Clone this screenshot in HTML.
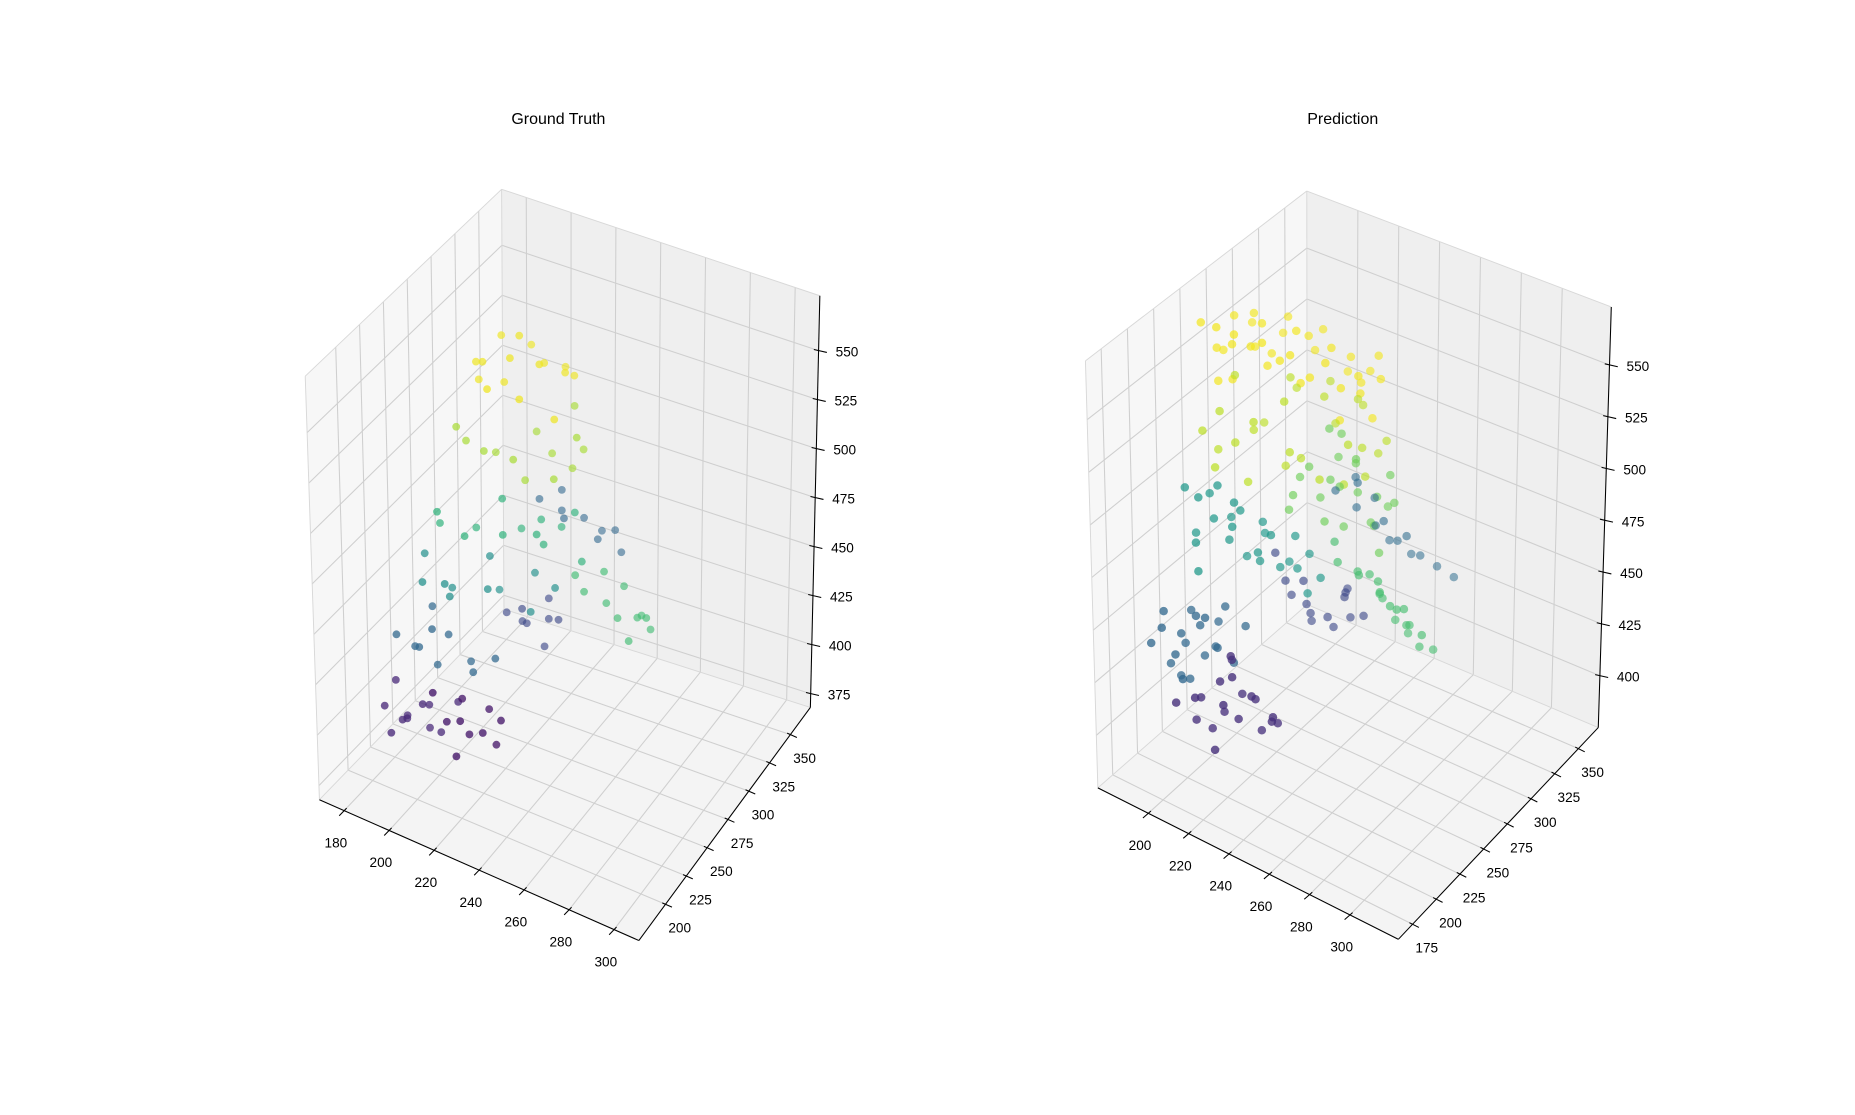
<!DOCTYPE html>
<html>
<head>
<meta charset="utf-8">
<style>
html,body{margin:0;padding:0;background:#fff;}
svg{display:block;font-family:"Liberation Sans","DejaVu Sans",sans-serif;}
</style>
</head>
<body>
<svg id="fig" width="1855" height="1115" viewBox="0 0 1568 942.5" preserveAspectRatio="none" xmlns="http://www.w3.org/2000/svg">
<rect x="0" y="0" width="1568" height="942.5" fill="#ffffff"/>
<g id="p0"></g>
<g id="p1"></g>
</svg>
<script>
// ---------- data ----------
const gtTicksX = [180,200,220,240,260,280,300];
const gtTicksY = [200,225,250,275,300,325,350];
const gtTicksZ = [375,400,425,450,475,500,525,550];
const prTicksX = [200,220,240,260,280,300];
const prTicksY = [175,200,225,250,275,300,325,350];
const prTicksZ = [400,425,450,475,500,525,550];

// Ground-truth clusters [x,y,z] and colour values
const gtHead = [[205,260,560],[212,250,568],[222,255,572],[232,262,570],[238,275,562],[236,290,552],[228,300,548],[215,295,556],[208,280,565],[220,270,575],[226,282,558],[214,268,550],[240,258,548],[230,245,560],[202,270,545],[218,240,562]];
const gtUpper = [[200,250,530],[210,255,520],[225,250,525],[238,262,515],[242,285,520],[232,300,530],[215,300,510],[205,280,505],[220,275,500],[235,290,505],[245,270,535],[198,265,515],[228,285,512]];
const gtMid = [[195,240,490],[205,245,480],[220,250,485],[232,265,478],[240,280,490],[228,295,470],[212,290,465],[200,270,470],[190,255,475],[215,262,495],[245,275,470],[235,250,492],[225,280,480]];
const gtLower = [[190,235,455],[200,240,450],[215,245,458],[228,260,445],[222,280,452],[208,275,440],[195,255,445],[185,250,460],[235,270,455],[210,260,465],[202,230,462]];
const gtLegUp = [[182,225,430],[190,230,425],[200,238,432],[212,235,420],[205,250,415],[192,245,410],[184,240,418],[220,240,428],[198,225,440],[188,250,435]];
const gtLegLow = [[178,220,395],[186,225,390],[194,230,398],[182,235,385],[190,240,380],[200,228,388],[205,235,402],[196,218,405],[188,215,395],[180,228,405],[184,212,388]];
const gtLeg2 = [[212,205,410],[220,210,405],[228,205,412],[222,195,420],[215,215,418],[230,215,402],[208,200,425],[225,220,415],[235,208,420],[218,200,398]];
const gtPurple = [[205,290,420],[212,295,415],[220,300,418],[214,285,428],[222,290,410],[208,300,412],[218,305,425],[226,296,422]];
const gtGreenArm = [[240,290,445],[248,295,440],[255,290,438],[260,300,435],[252,305,445],[262,285,432],[266,295,440],[245,300,452],[258,310,430],[238,285,455],[264,305,428]];
const gtBlueArm = [[212,310,470],[220,315,465],[228,320,462],[235,318,455],[225,305,468],[240,325,458],[218,320,472],[232,330,452],[244,322,450]];
const gtColors = [0.96,0.78,0.58,0.45,0.3,0.1,0.06,0.2,0.62,0.3];

// Prediction clusters
const prHead = [[195,245,560],[205,240,568],[215,238,572],[228,240,570],[240,245,565],[250,255,560],[252,270,552],[245,285,548],[235,295,552],[220,298,558],[207,290,562],[198,275,566],[196,260,570],[212,255,575],[225,262,574],[238,270,568],[222,280,563],[208,272,552],[246,262,540],[200,250,545],
  [190,240,572],[200,235,576],[210,232,578],[222,235,578],[234,238,576],[245,250,572],[255,262,565],[258,278,558],[250,292,560],[242,300,546],[230,302,540],[215,300,545],[202,295,550],[192,285,555],[188,265,548],[192,252,540],[252,282,535],[218,248,560],[232,252,556],[205,262,558]];
const prUpper = [[196,245,530],[205,242,520],[215,240,535],[230,245,525],[242,250,515],[250,262,530],[248,280,520],[240,292,535],[226,298,515],[210,292,528],[200,280,512],[195,262,540],[218,265,505],[232,275,540],[206,258,520],[244,270,505],[225,250,545],[212,282,538],
  [190,240,520],[200,232,510],[252,275,510],[255,290,522],[236,305,525],[220,305,530],[190,255,505],[246,300,508],[208,248,500],[228,260,515]];
const prGreenTorso = [[222,280,500],[230,285,495],[240,290,505],[248,295,490],[236,300,485],[226,292,515],[215,285,490],[244,282,512],[252,300,500],[232,275,480],[220,295,478],[240,305,470],[250,288,480],[228,300,510],
  [218,272,488],[234,290,472],[256,296,490],[246,310,478],[224,305,495],[238,278,498],[212,280,475],[254,285,470]];
const prTeal = [[190,235,490],[195,240,480],[200,245,470],[188,250,485],[196,255,475],[205,240,492],[210,255,460],[215,265,455],[205,270,465],[220,270,470],[212,280,450],[200,262,455],[225,262,460],[192,228,472],[185,242,468],[218,250,478],[208,232,485],[230,275,452],
  [186,230,495],[194,226,460],[202,252,482],[214,245,470],[222,280,458],[208,262,475],[198,238,498],[226,270,445]];
const prLegBlue = [[182,215,440],[188,220,430],[195,225,435],[200,230,425],[185,230,420],[192,235,415],[180,225,410],[198,215,445],[205,222,430],[190,210,425],[184,238,432],[200,240,440],[196,205,418],[208,232,420],
  [178,210,425],[186,205,438],[204,212,448],[210,240,435],[180,235,400],[194,245,428],[188,228,405]];
const prLegPurple = [[210,195,420],[218,198,430],[226,200,415],[232,205,425],[215,208,410],[222,212,420],[235,195,432],[228,190,440],[212,185,425],[240,205,418],[220,205,440],[205,200,405],[230,215,405],[218,192,400],
  [200,190,415],[208,210,398],[238,215,412],[226,185,428],[244,198,425],[214,218,430]];
const prPurple = [[210,280,440],[218,285,430],[226,290,425],[232,295,435],[215,295,420],[224,300,415],[236,288,442],[208,290,428],[230,305,420],[220,278,445],
  [240,298,428],[212,302,412],[226,310,430],[204,282,450]];
const prGreenArm = [[236,280,460],[244,285,455],[252,290,448],[258,295,440],[262,300,432],[248,298,442],[240,292,452],[255,282,458],[264,290,445],[246,305,436],[268,298,425],[232,285,466],[258,305,428],
  [270,308,420],[250,310,425],[262,280,450],[242,300,448],[272,292,435],[254,315,418]];
const prBlueArm = [[220,310,475],[228,315,468],[235,320,460],[242,328,452],[250,335,445],[232,325,470],[224,322,478],[240,318,465],[248,325,458],[256,340,440],[236,332,448],
  [262,345,435],[244,338,442],[230,312,482]];
const prColors = [0.97,0.82,0.7,0.48,0.3,0.12,0.2,0.63,0.32];

// ---------- geometry (screen frame per panel) ----------
const panels = [
  {id:'p0', title:'Ground Truth', tx:472, r:3.3, range:{x:[169,311],y:[168,374],z:[368,578]},
   A:[270,676],B:[540,795],C:[685,598],D:[426,515],
   At:[258,318],Bt:[538,444],Ct:[693,250],Dt:[424,160],
   ticks:[gtTicksX,gtTicksY,gtTicksZ],
   clusters:[gtHead,gtUpper,gtMid,gtLower,gtLegUp,gtLegLow,gtLeg2,gtPurple,gtGreenArm,gtBlueArm], colors:gtColors},
  {id:'p1', title:'Prediction', tx:1135, r:3.6, range:{x:[175,324],y:[160,371],z:[375,578]},
   A:[928,666],B:[1182,794],C:[1351,615],D:[1105,511],
   At:[917.5,305],Bt:[1182.5,427],Ct:[1362,259.5],Dt:[1104.6,161.5],
   ticks:[prTicksX,prTicksY,prTicksZ],
   clusters:[prHead,prUpper,prGreenTorso,prTeal,prLegBlue,prLegPurple,prPurple,prGreenArm,prBlueArm], colors:prColors}
];

const NS='http://www.w3.org/2000/svg';
function mk(tag, attrs, parent){
  const e=document.createElementNS(NS,tag);
  for(const k in attrs) e.setAttribute(k,attrs[k]);
  parent.appendChild(e); return e;
}
function bil(P,u,v){
  const a=(1-u)*(1-v),b=u*(1-v),c=u*v,d=(1-u)*v;
  return [a*P.A[0]+b*P.B[0]+c*P.C[0]+d*P.D[0], a*P.A[1]+b*P.B[1]+c*P.C[1]+d*P.D[1]];
}
function bilT(P,u,v){
  const a=(1-u)*(1-v),b=u*(1-v),c=u*v,d=(1-u)*v;
  return [a*P.At[0]+b*P.Bt[0]+c*P.Ct[0]+d*P.Dt[0], a*P.At[1]+b*P.Bt[1]+c*P.Ct[1]+d*P.Dt[1]];
}
function projUVW(P,u,v,w){
  const f=bil(P,u,v), t=bilT(P,u,v);
  return [f[0]+w*(t[0]-f[0]), f[1]+w*(t[1]-f[1])];
}
function nx(P,x){return (x-P.range.x[0])/(P.range.x[1]-P.range.x[0]);}
function ny(P,y){return (y-P.range.y[0])/(P.range.y[1]-P.range.y[0]);}
function nz(P,z){return (z-P.range.z[0])/(P.range.z[1]-P.range.z[0]);}
function proj(P,x,y,z){return projUVW(P,nx(P,x),ny(P,y),nz(P,z));}

const vir=[[68,1,84],[72,40,120],[62,73,137],[49,104,142],[38,130,142],[31,158,137],[53,183,121],[110,206,88],[181,222,43],[216,226,25],[253,231,37]];
function viridis(t){
  t=Math.max(0,Math.min(1,t))*10; const i=Math.min(9,Math.floor(t)), f=t-i;
  const a=vir[i],b=vir[i+1];
  return 'rgb('+[0,1,2].map(k=>Math.round(a[k]+(b[k]-a[k])*f)).join(',')+')';
}
function pts(arr){return arr.map(p=>p[0].toFixed(1)+','+p[1].toFixed(1)).join(' ');}

panels.forEach(P=>{
  const g=document.getElementById(P.id);
  const t=mk('text',{x:P.tx,y:105,'text-anchor':'middle','font-size':13.5,fill:'#000'},g);
  t.textContent=P.title;
  
  

  const floor=mk('polygon',{points:pts([P.A,P.B,P.C,P.D]),fill:'#f4f4f4',stroke:'none'},g);
  
  
  const left=mk('polygon',{points:pts([P.A,P.D,P.Dt,P.At]),fill:'#f7f7f7',stroke:'none'},g);
  
  
  const back=mk('polygon',{points:pts([P.D,P.C,P.Ct,P.Dt]),fill:'#efefef',stroke:'none'},g);
  
  

  const [tX,tY,tZ]=P.ticks;
  const grid=mk('g',{stroke:'#cfcfcf','stroke-width':0.9,fill:'none'},g);
  
  
  function line(p,q,par,st){return mk('line',Object.assign({x1:p[0],y1:p[1],x2:q[0],y2:q[1]},st||{}),par);}
  tX.forEach(x=>{const u=nx(P,x);
    line(projUVW(P,u,0,0),projUVW(P,u,1,0),grid);
    line(projUVW(P,u,1,0),projUVW(P,u,1,1),grid);});
  tY.forEach(y=>{const v=ny(P,y);
    line(projUVW(P,0,v,0),projUVW(P,1,v,0),grid);
    line(projUVW(P,0,v,0),projUVW(P,0,v,1),grid);});
  tZ.forEach(z=>{const w=nz(P,z);
    line(projUVW(P,0,0,w),projUVW(P,0,1,w),grid);
    line(projUVW(P,0,1,w),projUVW(P,1,1,w),grid);});
  const edges=mk('g',{stroke:'#d8d8d8','stroke-width':0.8},g);
  line(P.A,P.At,edges);line(P.D,P.Dt,edges);line(P.At,P.Dt,edges);line(P.Dt,P.Ct,edges);line(P.A,P.D,edges);line(P.D,P.C,edges);

  const ax=mk('g',{stroke:'#000','stroke-width':0.9},g);
  
  
  line(P.A,P.B,ax);line(P.B,P.C,ax);line(P.C,P.Ct,ax);
  const lab=mk('g',{'font-size':11.5,fill:'#000','text-anchor':'middle'},g);
  
  
  const dv=[P.A[0]-P.D[0],P.A[1]-P.D[1]], dl=Math.hypot(dv[0],dv[1]);
  tX.forEach(x=>{const p=projUVW(P,nx(P,x),0,0);
    line([p[0]+dv[0]/dl*-3,p[1]+dv[1]/dl*-3],[p[0]+dv[0]/dl*6,p[1]+dv[1]/dl*6],ax);
    const tx=mk('text',{x:p[0]-7,y:p[1]+31},lab); tx.textContent=x;
    
    });
  const du=[P.B[0]-P.A[0],P.B[1]-P.A[1]], ul=Math.hypot(du[0],du[1]);
  tY.forEach(y=>{const p=projUVW(P,1,ny(P,y),0);
    line([p[0]-du[0]/ul*3,p[1]-du[1]/ul*3],[p[0]+du[0]/ul*6,p[1]+du[1]/ul*6],ax);
    const tx=mk('text',{x:p[0]+12,y:p[1]+24},lab); tx.textContent=y;
    
    });
  tZ.forEach(z=>{const p=projUVW(P,1,1,nz(P,z));
    line([p[0]-4,p[1]-1],[p[0]+7,p[1]+1.5],ax);
    const tx=mk('text',{x:p[0]+24,y:p[1]+5},lab); tx.textContent=z;
    
    });

  const sc=mk('g',{},g);
  
  
  P.clusters.forEach((cl,ci)=>{
    const col=viridis(P.colors[ci]);
    cl.forEach(pt=>{
      const s=proj(P,pt[0],pt[1],pt[2]);
      const depth=ny(P,pt[1]);
      const c=mk('circle',{cx:s[0].toFixed(1),cy:s[1].toFixed(1),r:P.r,fill:col,'fill-opacity':(0.85-0.35*depth).toFixed(2)},sc);
      
      
    });
  });
});
</script>
</body>
</html>
